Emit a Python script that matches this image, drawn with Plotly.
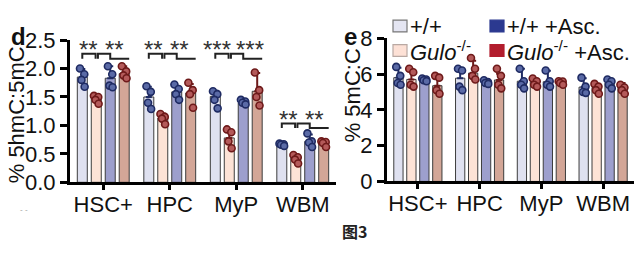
import plotly.graph_objects as go

# ---------------- data ----------------
categories = ["HSC+", "HPC", "MyP", "WBM"]
series_names = ["+/+", "Gulo-/-", "+/+ +Asc.", "Gulo-/- +Asc."]

# panel d: % 5hmC:5mC
d_mean_wt = [1.85, 1.50, 1.51, 0.65]
d_mean_ko = [1.47, 1.13, 0.78, 0.43]
d_mean_wt_asc = [1.83, 1.59, 1.40, 0.72]
d_mean_ko_asc = [1.91, 1.57, 1.60, 0.70]

d_err_wt = [0.14, 0.18, 0.10, 0.03]
d_err_ko = [0.07, 0.08, 0.14, 0.06]
d_err_wt_asc = [0.21, 0.10, 0.03, 0.12]
d_err_ko_asc = [0.13, 0.16, 0.32, 0.04]

d_pts_wt = [[2.00, 1.90, 1.80, 1.68], [1.69, 1.59, 1.40, 1.29], [1.60, 1.55, 1.45, 1.30], [0.68, 0.67, 0.66, 0.64]]
d_pts_ko = [[1.52, 1.50, 1.45, 1.38], [1.20, 1.15, 1.12, 1.02], [0.93, 0.88, 0.72, 0.60], [0.48, 0.44, 0.40, 0.33]]
d_pts_wt_asc = [[2.04, 1.90, 1.70, 1.67], [1.72, 1.64, 1.55, 1.45], [1.45, 1.42, 1.40, 1.37], [0.86, 0.72, 0.70, 0.62]]
d_pts_ko_asc = [[2.04, 1.95, 1.88, 1.83], [1.75, 1.62, 1.55, 1.31], [1.93, 1.62, 1.50, 1.35], [0.72, 0.71, 0.69, 0.62]]

# panel e: % 5mC:C
e_mean_wt = [5.80, 5.77, 5.60, 5.27]
e_mean_ko = [5.70, 6.05, 5.55, 5.25]
e_mean_wt_asc = [5.68, 5.57, 5.57, 5.50]
e_mean_ko_asc = [5.35, 5.67, 5.50, 5.30]

e_err_wt = [0.55, 0.55, 0.70, 0.50]
e_err_ko = [0.50, 0.70, 0.20, 0.20]
e_err_wt_asc = [0.12, 0.10, 0.62, 0.20]
e_err_ko_asc = [0.50, 0.35, 0.12, 0.20]

e_pts_wt = [[6.40, 5.90, 5.50, 5.40], [6.30, 6.20, 5.30, 5.10], [6.30, 5.60, 5.40, 5.20], [5.80, 5.30, 5.00, 4.95]]
e_pts_ko = [[6.30, 6.10, 5.40, 5.30], [6.90, 6.30, 5.90, 5.70], [5.75, 5.60, 5.40, 5.30], [5.45, 5.30, 5.10, 4.90]]
e_pts_wt_asc = [[5.75, 5.70, 5.65, 5.60], [5.65, 5.55, 5.50, 5.45], [6.20, 5.60, 5.40, 5.30], [5.70, 5.60, 5.40, 5.20]]
e_pts_ko_asc = [[5.90, 5.80, 5.10, 4.90], [6.30, 5.90, 5.40, 5.20], [5.60, 5.58, 5.50, 5.40], [5.40, 5.25, 5.10, 4.90]]

# significance labels (panel d)
d_sig_left = ["**", "**", "***", "**"]
d_sig_right = ["**", "**", "***", "**"]

# ---------------- style ----------------
W, H = 644, 266
FONT = "Liberation Sans, Arial, sans-serif"
bar_colors = ["#dfe1f0", "#fde3d6", "#9d9fcd", "#d3a697"]
dot_fill = ["#5a6aa6", "#b45a5a", "#5a6aa6", "#b45a5a"]
dot_line = ["#1f2b63", "#6e1a1a", "#1f2b63", "#6e1a1a"]
legend_fill = ["#e4e5f2", "#fde1d6", "#2b3990", "#b21d2d"]
legend_line = ["#777777", "#b9a9a3", "#2b3990", "#b21d2d"]
step = 0.21
bw = 0.15
jit = [-0.035, 0.03, -0.012, 0.035]
star_dx_left = [-0.22, -0.24, -0.29, -0.22]
star_dx_right = [0.17, 0.15, 0.20, 0.17]


def px(x):
    return x / W


def py(y):
    return 1 - y / H


fig = go.Figure()

panels = [
    ("x", "y", [d_mean_wt, d_mean_ko, d_mean_wt_asc, d_mean_ko_asc],
     [d_err_wt, d_err_ko, d_err_wt_asc, d_err_ko_asc],
     [d_pts_wt, d_pts_ko, d_pts_wt_asc, d_pts_ko_asc]),
    ("x2", "y2", [e_mean_wt, e_mean_ko, e_mean_wt_asc, e_mean_ko_asc],
     [e_err_wt, e_err_ko, e_err_wt_asc, e_err_ko_asc],
     [e_pts_wt, e_pts_ko, e_pts_wt_asc, e_pts_ko_asc]),
]

for xa, ya, means, errs, pts in panels:
    for j in range(4):
        xs = [i + (j - 1.5) * step for i in range(len(categories))]
        fig.add_trace(go.Bar(
            x=xs, y=means[j], width=bw, name=series_names[j],
            marker=dict(color=bar_colors[j], line=dict(color="#3c3c3c", width=1)),
            error_y=dict(type="data", array=errs[j], arrayminus=[0] * 4, symmetric=False,
                         color=dot_line[j], thickness=2, width=3),
            xaxis=xa, yaxis=ya, showlegend=False,
        ))
    for j in range(4):
        dx, dy = [], []
        for i in range(len(categories)):
            for k, v in enumerate(pts[j][i]):
                dx.append(i + (j - 1.5) * step + jit[k])
                dy.append(v)
        fig.add_trace(go.Scatter(
            x=dx, y=dy, mode="markers",
            marker=dict(size=7, color=dot_fill[j], line=dict(color=dot_line[j], width=1.6)),
            xaxis=xa, yaxis=ya, showlegend=False, hoverinfo="skip",
        ))

# significance brackets panel d
shapes = []
annotations = []
for i in range(len(categories)):
    if i < 3:
        top, bot, sy = 2.26, 2.17, 2.33
    else:
        top, bot, sy = 1.035, 0.955, 1.11
    lav = i - 1.5 * step
    pea = i - 0.5 * step
    pur = i + 0.5 * step
    ros = i + 1.5 * step
    p1 = f"M {lav},{bot} L {lav},{top} L {pea - 0.01},{top} L {pea - 0.01},{bot}"
    p2 = (f"M {pea + 0.025},{bot} L {pea + 0.025},{top} L {pur},{top} L {pur},{bot} "
          f"L {ros + bw / 2},{bot}")
    for p in (p1, p2):
        shapes.append(dict(type="path", path=p, xref="x", yref="y",
                           line=dict(color="#222222", width=2)))
    annotations.append(dict(x=i + star_dx_left[i], y=sy, xref="x", yref="y", text=d_sig_left[i],
                            showarrow=False, font=dict(size=24, color="#333333", family=FONT),
                            xanchor="center", yanchor="middle"))
    annotations.append(dict(x=i + star_dx_right[i], y=sy, xref="x", yref="y",
                            text=d_sig_right[i], showarrow=False,
                            font=dict(size=24, color="#333333", family=FONT),
                            xanchor="center", yanchor="middle"))

# legend (drawn manually, two columns)
leg_items = [
    (393, 9, "+/+", 0),
    (393, 36, "<i>Gulo</i><sup>-/-</sup>", 1),
    (490, 9, "+/+ +Asc.", 2),
    (490, 36, "<i>Gulo</i><sup>-/-</sup> +Asc.", 3),
]
for x0, y0, txt, j in leg_items:
    shapes.append(dict(type="rect", xref="paper", yref="paper",
                       x0=px(x0), x1=px(x0 + 14), y0=py(y0 + 13), y1=py(y0),
                       fillcolor=legend_fill[j], line=dict(color=legend_line[j], width=1.2)))
    annotations.append(dict(x=px(x0 + 15), y=py(y0 + 7), xref="paper", yref="paper",
                            text=txt, showarrow=False, xanchor="left", yanchor="middle",
                            font=dict(size=22, color="#111111", family=FONT)))


def label(x, y, text, size, family=FONT, color="#111111", angle=0):
    return dict(x=px(x), y=py(y), xref="paper", yref="paper", text=text, textangle=angle,
                showarrow=False, xanchor="center", yanchor="middle",
                font=dict(size=size, color=color, family=family))


# axis titles and panel labels
annotations += [
    label(16, 114, "% 5hmC:5mC", 22, angle=-90),
    label(352, 92, "% 5mC:C", 22, angle=-90),
    label(18, 27, "<b>d</b>", 24),
    label(351, 27, "<b>e</b>", 24),
    label(354, 242, "<b>图3</b>", 16, family="Noto Sans CJK SC", color="#222222"),
    label(24, 218, "- -", 8, color="#9a9a9a"),
]

axis_common = dict(showline=True, linecolor="#000000", linewidth=3, ticks="outside",
                   tickwidth=3, tickcolor="#000000", showgrid=False, zeroline=False,
                   fixedrange=True)
xfont = dict(size=22, color="#111111", family=FONT)
yfont = dict(size=22, color="#111111", family=FONT)

fig.update_layout(
    width=W, height=H, margin=dict(l=0, r=0, t=0, b=0),
    paper_bgcolor="white", plot_bgcolor="white", barmode="overlay",
    xaxis=dict(domain=[px(70), px(336)], anchor="y", range=[-0.5, 3.5],
               tickvals=list(range(4)), ticktext=categories, ticklen=5, tickfont=xfont,
               ticklabelstandoff=-5, **axis_common),
    yaxis=dict(domain=[py(188), py(31)], anchor="x", range=[0, 2.5],
               tickvals=[0, 0.5, 1.0, 1.5, 2.0, 2.5], tickformat=".1f", ticklen=7,
               tickfont=yfont, **axis_common),
    xaxis2=dict(domain=[px(387), px(634)], anchor="y2", range=[-0.5, 3.5],
                tickvals=list(range(4)), ticktext=categories, ticklen=5, tickfont=xfont,
                ticklabelstandoff=-5, **axis_common),
    yaxis2=dict(domain=[py(187), py(29)], anchor="x2", range=[0, 8],
                tickvals=[0, 2, 4, 6, 8], ticklen=7, tickfont=yfont, **axis_common),
    shapes=shapes, annotations=annotations, showlegend=False,
)

fig.write_html("out.html")
